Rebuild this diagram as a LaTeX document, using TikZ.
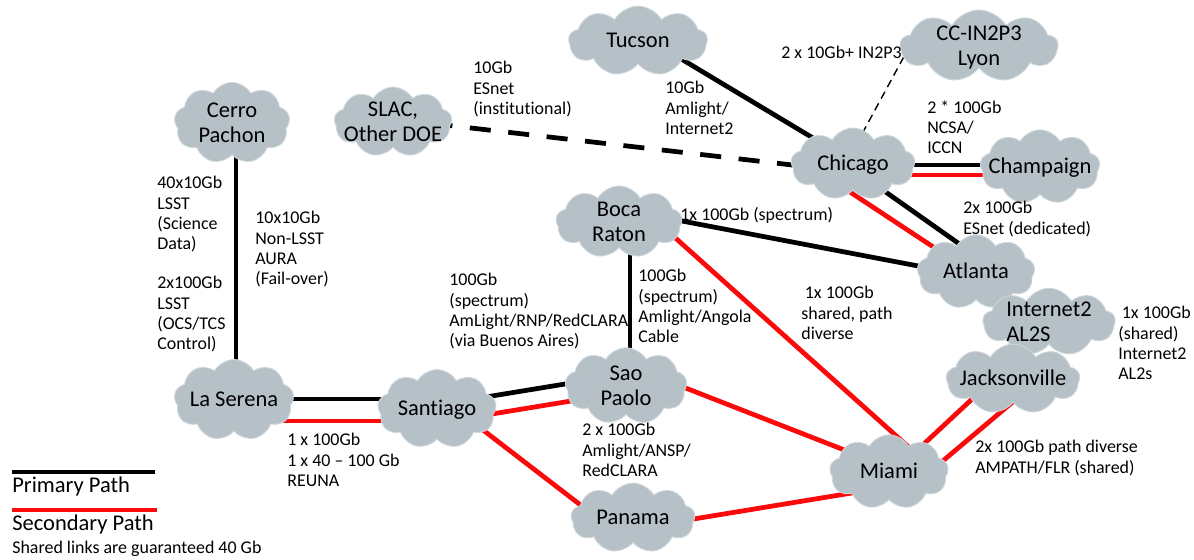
\documentclass[tikz,border=0pt]{standalone}
\usepackage{fontspec}
\setmainfont{Carlito}[Ligatures=NoCommon]
\usetikzlibrary{shapes.symbols,calc,backgrounds}

\definecolor{cloudgray}{RGB}{181,193,199}
\definecolor{cloudedge}{RGB}{206,215,220}
\definecolor{linkred}{RGB}{250,10,10}

\newcommand{\cloudlbl}[2][c]{\raisebox{-8pt}{\smash{\makebox[0pt]{\fontsize{12.8}{14.2}\selectfont\begin{tabular}{@{}#1@{}}#2\end{tabular}}}}}

\begin{document}
\begin{tikzpicture}[x=0.02cm, y=-0.02cm,
    cloudnode/.style={cloud, cloud puffs=9, cloud puff arc=120, cloud ignores aspect,
      fill=cloudgray, draw=cloudedge, line width=0.5pt, inner sep=0pt},
    sz/.style 2 args={minimum width=#1*0.021cm, minimum height=#2*0.0225cm},
    lbl/.style={anchor=north west, inner sep=0pt, align=left, font=\fontsize{10.2}{11.6}\selectfont},
    legendtxt/.style={anchor=base west, inner sep=0pt},
    primary/.style={line width=2.7pt, black},
    secondary/.style={line width=2.7pt, linkred},
    esnetdash/.style={line width=2.7pt, dash pattern=on 12pt off 10pt},
    thindash/.style={line width=0.8pt, dash pattern=on 4.5pt off 3pt}]
  \useasboundingbox (0,0) rectangle (1194,559);

  \node[cloudnode, sz={110}{72}] (cerro) at (232,123) {\cloudlbl{Cerro\\Pachon}};
  \node[cloudnode, sz={112}{62}] (slac) at (393,122) {\cloudlbl{SLAC,\\Other DOE}};
  \node[cloudnode, sz={132}{62}] (tucson) at (638,41) {\cloudlbl{Tucson}};
  \node[cloudnode, sz={150}{64}] (lyon) at (979,46) {\cloudlbl{CC-IN2P3\\Lyon}};
  \node[cloudnode, sz={118}{64}] (chicago) at (853,164) {\cloudlbl{Chicago}};
  \node[cloudnode, sz={114}{66}] (champaign) at (1040,167) {\cloudlbl{Champaign}};
  \node[cloudnode, sz={120}{64}] (boca) at (619,222) {\cloudlbl{Boca\\Raton}};
  \node[cloudnode, sz={112}{66}] (atlanta) at (976,272) {\cloudlbl{Atlanta}};
  \node[cloudnode, sz={126}{60}] (internet) at (1049,322) {\cloudlbl[l]{Internet2\\AL2S}};
  \node[cloudnode, sz={127}{62}] (jax) at (1013,379) {\cloudlbl{Jacksonville}};
  \node[cloudnode, sz={114}{72}] (laserena) at (234,400) {\cloudlbl{La Serena}};
  \node[cloudnode, sz={113}{70}] (santiago) at (437,409) {\cloudlbl{Santiago}};
  \node[cloudnode, sz={116}{68}] (saopaolo) at (626,386) {\cloudlbl{Sao\\Paolo}};
  \node[cloudnode, sz={113}{66}] (miami) at (889,472) {\cloudlbl{Miami}};
  \node[cloudnode, sz={118}{62}] (panama) at (633,518) {\cloudlbl{Panama}};

  \begin{scope}[on background layer]
    \draw[primary] ($(cerro)+(4,0)$) -- ($(laserena)+(2,0)$);
    \draw[primary] ($(laserena)+(0,-1)$) -- ($(santiago)+(0,-10)$);
    \draw[secondary] ($(laserena)+(0,21)$) -- ($(santiago)+(0,12)$);
    \draw[primary] ($(santiago)+(0,-4)$) -- ($(saopaolo)+(0,-12)$);
    \draw[secondary] ($(santiago)+(0,14)$) -- ($(saopaolo)+(0,6)$);
    \draw[secondary] ($(santiago)+(33,11)$) -- ($(panama)+(-33,2)$);
    \draw[primary] ($(boca)+(11,0)$) -- ($(saopaolo)+(4,0)$);
    \draw[primary] ($(boca)+(0,-13)$) -- ($(atlanta)+(0,5)$);
    \draw[secondary] ($(boca)+(33,-5)$) -- ($(miami)+(23,-22)$);
    \draw[secondary] ($(saopaolo)+(34,-8)$) -- ($(miami)+(-19,-12)$);
    \draw[secondary] ($(panama)+(30,6)$) -- ($(miami)+(-19,18)$);
    \draw[secondary] ($(miami)+(23,-17)$) -- ($(jax)+(-28,8)$);
    \draw[secondary] ($(miami)+(36,4)$) -- ($(jax)+(2,21)$);
    \draw[primary] ($(chicago)+(0,1)$) -- ($(champaign)+(0,-2)$);
    \draw[secondary] ($(chicago)+(0,11)$) -- ($(champaign)+(0,8)$);
    \draw[secondary] ($(chicago)+(-3,28)$) -- ($(atlanta)+(-26,-14)$);
    \draw[primary] ($(chicago)+(27,24)$) -- ($(atlanta)+(-1,-17)$);
    \draw[primary] ($(tucson)+(0,-8)$) -- ($(chicago)+(0,-2)$);
    \draw[esnetdash] ($(slac)+(0,-3)$) -- ($(chicago)+(0,8)$);
    \draw[thindash] ($(chicago)+(3,-19)$) -- ($(lyon)+(-65,-8)$);
  \end{scope}

  \node[lbl] (lscience) at (157,176) {40x10Gb\\LSST\\(Science\\Data)};
  \node[lbl] (lcontrol) at (157,276) {2x100Gb\\LSST\\(OCS/TCS\\Control)};
  \node[lbl] (laura) at (255,211) {10x10Gb\\Non-LSST\\AURA\\(Fail-over)};
  \node[lbl] (lslac) at (473,61) {10Gb\\ESnet\\(institutional)};
  \node[lbl] (ltucson) at (665,81) {10Gb\\Amlight/\\Internet2};
  \node[lbl] (llyon) at (781,46) {2 x 10Gb+ IN2P3};
  \node[lbl] (lncsa) at (927,100) {2 * 100Gb\\NCSA/\\ICCN};
  \node[lbl] (lesnet) at (963,201) {2x 100Gb\\ESnet (dedicated)};
  \node[lbl] (lspectrum) at (680,207) {1x 100Gb (spectrum)};
  \node[lbl] (lrnp) at (449,273) {100Gb\\(spectrum)\\AmLight/RNP/RedCLARA\\(via Buenos Aires)};
  \node[lbl] (langola) at (638,269) {100Gb\\(spectrum)\\Amlight/Angola\\Cable};
  \node[lbl] (ldiverse) at (801,286) {\hspace{2pt}1x 100Gb\\shared, path\\diverse};
  \node[lbl] (lal2s) at (1118,306) {\hspace{2pt}1x 100Gb\\(shared)\\Internet2\\AL2s};
  \node[lbl] (lreuna) at (287,433) {1 x 100Gb\\1 x 40 -- 100 Gb\\REUNA};
  \node[lbl] (lansp) at (582,423) {2 x 100Gb\\Amlight/ANSP/\\RedCLARA};
  \node[lbl] (lampath) at (975,440) {2x 100Gb path diverse\\AMPATH/FLR (shared)};

  \coordinate (pri1) at (12,472);
  \coordinate (pri2) at (155,472);
  \coordinate (sec1) at (12,510);
  \coordinate (sec2) at (157,510);
  \draw[primary] (pri1) -- (pri2);
  \draw[secondary] (sec1) -- (sec2);
  \node[legendtxt, font=\fontsize{12.8}{14.2}\selectfont] (primarytxt) at (12,492) {Primary Path};
  \node[legendtxt, font=\fontsize{12.8}{14.2}\selectfont] (secondarytxt) at (12,530) {Secondary Path};
  \node[legendtxt, font=\fontsize{10.2}{11.6}\selectfont] (sharedtxt) at (12,553) {Shared links are guaranteed 40 Gb};
\end{tikzpicture}
\end{document}
